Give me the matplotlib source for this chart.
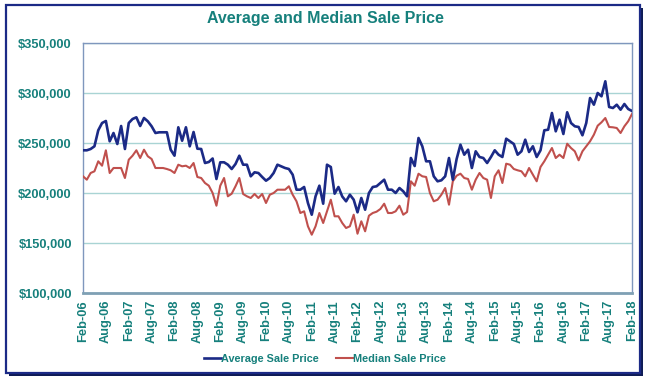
import numpy as np
import matplotlib
matplotlib.use("Agg")
import matplotlib.pyplot as plt
from matplotlib.patches import Rectangle
from matplotlib.ticker import FuncFormatter, FixedLocator

## Data (monthly, Feb-06 .. Feb-18), values in $ thousands
average_price = [
    242.7, 242.7, 244.0, 246.7, 262.7, 270.0, 272.0, 251.7, 260.0, 249.0,
    267.0, 244.0, 270.0, 274.0, 275.7, 267.0, 275.0, 271.7, 266.7, 260.0,
    260.7, 260.7, 260.7, 243.3, 237.3, 265.7, 252.3, 265.7, 246.7, 261.0,
    244.3, 244.0, 230.0, 231.0, 234.5, 214.0, 230.7, 230.7, 228.3, 224.0,
    229.0, 237.3, 228.3, 228.3, 216.7, 220.7, 220.0, 216.0, 212.3, 215.0,
    220.0, 228.3, 226.7, 225.0, 224.0, 218.3, 203.3, 203.3, 206.0, 190.0,
    178.3, 196.7, 207.3, 189.3, 228.3, 226.0, 199.3, 206.0, 196.5, 191.7,
    198.3, 193.3, 180.7, 195.0, 183.3, 200.0, 206.0, 206.7, 210.0, 213.3,
    203.3, 203.3, 200.0, 205.0, 201.7, 196.7, 235.0, 227.0, 255.0, 246.7,
    231.7, 231.7, 216.7, 211.7, 212.7, 216.7, 235.0, 213.3, 234.0, 248.3,
    238.3, 243.3, 225.0, 241.7, 236.0, 235.0, 230.0, 236.0, 242.7, 238.3,
    236.0, 254.3, 251.7, 249.0, 238.3, 241.7, 253.3, 241.0, 246.7, 236.0,
    242.7, 262.7, 263.3, 280.0, 261.7, 273.3, 259.0, 280.7, 270.0, 266.7,
    266.0, 257.7, 270.0, 295.0, 288.3, 300.0, 296.7, 311.7, 286.0, 285.0,
    288.3, 283.3, 289.0, 284.0, 282.0,
]

median_price = [
    216.7, 213.3, 220.0, 221.7, 231.7, 227.3, 242.7, 220.0, 225.0, 225.0,
    225.0, 215.0, 233.3, 237.3, 242.7, 235.0, 243.3, 236.7, 234.0, 225.0,
    225.0, 225.0, 224.0, 222.7, 220.0, 228.3, 226.7, 227.3, 225.0, 230.0,
    216.0, 215.0, 210.0, 207.3, 200.0, 187.3, 207.3, 215.0, 196.7, 199.3,
    206.7, 215.0, 199.0, 196.7, 195.0, 199.0, 195.0, 199.0, 190.0, 198.3,
    200.0, 203.3, 203.3, 203.3, 206.7, 198.3, 191.7, 180.0, 181.7, 166.7,
    158.3, 166.7, 180.0, 170.0, 181.7, 193.3, 176.7, 176.7, 170.0, 165.0,
    166.7, 178.3, 159.3, 171.7, 161.7, 177.3, 180.0, 181.3, 184.0, 189.3,
    180.0, 180.0, 181.7, 187.3, 178.3, 181.0, 211.7, 207.3, 219.3, 216.7,
    216.0, 200.0, 191.7, 193.3, 198.3, 205.0, 188.3, 211.7, 217.3, 219.3,
    215.0, 214.0, 203.3, 213.3, 220.0, 215.0, 213.3, 195.0, 216.7, 222.7,
    210.0, 229.3, 228.3, 224.0, 222.7, 221.7, 216.7, 225.0, 218.3, 211.7,
    226.0, 231.7, 238.3, 245.0, 235.0, 238.3, 235.0, 249.3, 245.0, 241.7,
    232.7, 241.7, 246.7, 251.7, 258.3, 267.3, 270.7, 275.0, 266.0, 265.7,
    265.0, 260.0, 266.7, 271.7, 279.0,
]

tick_labels = ["Feb-06", "Aug-06", "Feb-07", "Aug-07", "Feb-08", "Aug-08",
               "Feb-09", "Aug-09", "Feb-10", "Aug-10", "Feb-11", "Aug-11",
               "Feb-12", "Aug-12", "Feb-13", "Aug-13", "Feb-14", "Aug-14",
               "Feb-15", "Aug-15", "Feb-16", "Aug-16", "Feb-17", "Aug-17",
               "Feb-18"]
y_ticks = [100000, 150000, 200000, 250000, 300000, 350000]

teal = "#16807c"
navy = "#1b2a86"
red = "#c0504d"

plt.rcParams['font.family'] = ['Liberation Sans', 'DejaVu Sans']

W, H = 650, 385
fig = plt.figure(figsize=(W / 100, H / 100), dpi=100)

## outer frame with shadow
shadow = Rectangle((9 / W, 1 - 376 / H), 634 / W, 368 / H, transform=fig.transFigure,
                   facecolor="#0f1c55", edgecolor="none", zorder=0)
frame = Rectangle((6 / W, 1 - 373 / H), 634 / W, 368 / H, transform=fig.transFigure,
                  facecolor="white", edgecolor=navy, linewidth=1.6, zorder=1)
fig.patches.extend([shadow, frame])

ax = fig.add_axes([83 / W, 1 - 293 / H, 549 / W, 250 / H])
ax.set_zorder(2)

months = np.arange(len(average_price))
avg = np.array(average_price) * 1000
med = np.array(median_price) * 1000

ax.plot(months, avg, color=navy, linewidth=1.9, label="Average Sale Price", zorder=4)
ax.plot(months, med, color=red, linewidth=1.5, label="Median Sale Price", zorder=3)

ax.set_xlim(0, len(months) - 1)
ax.set_ylim(100000, 350000)
ax.yaxis.set_major_locator(FixedLocator(y_ticks))
ax.yaxis.set_major_formatter(FuncFormatter(lambda v, p: f"${v:,.0f}"))
ax.set_xticks(np.arange(0, len(months), 6))
ax.set_xticklabels(tick_labels, rotation=90)

ax.grid(axis="y", color="#a9d4d4", linewidth=1.0)
ax.set_axisbelow(True)
for side in ["top", "left", "right"]:
    ax.spines[side].set_color("#7f97bd")
    ax.spines[side].set_linewidth(1.0)
ax.spines["bottom"].set_color("#7fa0b4")
ax.spines["bottom"].set_linewidth(2.0)

ax.tick_params(axis="both", length=0, colors=teal, labelsize=9.3)
ax.tick_params(axis="y", pad=8)
ax.tick_params(axis="x", pad=5)
for lab in ax.get_xticklabels() + ax.get_yticklabels():
    lab.set_fontweight("bold")
    lab.set_color(teal)

fig.text(325 / W, 1 - 19 / H, "Average and Median Sale Price", ha="center", va="center",
         fontsize=11.5, fontweight="bold", color=teal)

leg = ax.legend(loc="center", bbox_to_anchor=(325 / W, 1 - 359 / H),
                bbox_transform=fig.transFigure, ncol=2, frameon=False,
                handlelength=1.6, handletextpad=0.0, columnspacing=1.6,
                prop={"weight": "bold", "size": 7.8})
for t in leg.get_texts():
    t.set_color(teal)

fig.savefig("out.png", dpi=100)
